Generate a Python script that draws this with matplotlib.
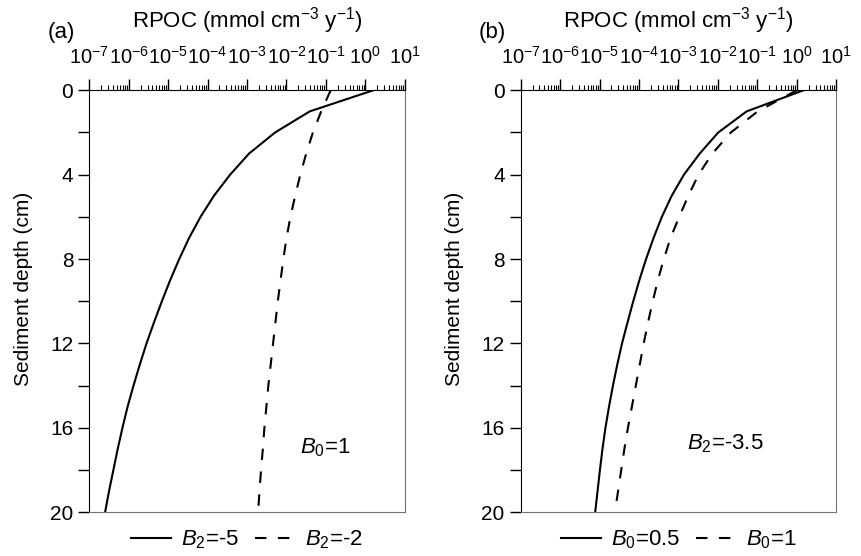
import matplotlib
matplotlib.use("Agg")
import matplotlib.pyplot as plt
from matplotlib.ticker import LogLocator, MultipleLocator, NullFormatter

plt.rcParams['font.family'] = ['Liberation Sans', 'DejaVu Sans']
plt.rcParams['mathtext.fontset'] = 'custom'
plt.rcParams['mathtext.rm'] = 'Liberation Sans'
plt.rcParams['mathtext.it'] = 'Liberation Sans:italic'
plt.rcParams['mathtext.default'] = 'regular'

# sediment depth (cm)
depth = list(range(0, 21))

# log10 of RPOC (mmol cm-3 y-1), panel (a): B0=1
log_a_b2m5 = [0.20, -1.41, -2.29, -2.95, -3.43, -3.84, -4.18, -4.47, -4.72, -4.95,
              -5.16, -5.36, -5.55, -5.72, -5.88, -6.03, -6.16, -6.28, -6.39, -6.50, -6.60]
log_a_b2m2 = [-0.88, -1.12, -1.33, -1.50, -1.65, -1.78, -1.90, -2.00, -2.08, -2.15,
              -2.22, -2.28, -2.34, -2.40, -2.46, -2.51, -2.56, -2.60, -2.645, -2.685, -2.72]

# panel (b): B2=-3.5
log_b_b05 = [0.17, -1.27, -1.99, -2.46, -2.86, -3.17, -3.42, -3.63, -3.82, -3.99,
             -4.145, -4.29, -4.43, -4.55, -4.66, -4.76, -4.85, -4.925, -4.99, -5.05, -5.11]
log_b_b1 = [0.0, -0.99, -1.67, -2.14, -2.49, -2.75, -2.98, -3.20, -3.37, -3.52,
            -3.65, -3.77, -3.88, -3.98, -4.08, -4.18, -4.28, -4.37, -4.45, -4.53, -4.61]

panels = [
    ("(a)", log_a_b2m5, log_a_b2m2, "$\\mathit{B}_{2}$=-5", "$\\mathit{B}_{2}$=-2",
     "$\\mathit{B}_{0}$=1", (0.667, 0.1405)),
    ("(b)", log_b_b05, log_b_b1, "$\\mathit{B}_{0}$=0.5", "$\\mathit{B}_{0}$=1",
     "$\\mathit{B}_{2}$=-3.5", (0.527, 0.148)),
]

fig = plt.figure(figsize=(8.62, 5.56), dpi=100)
lefts = [0.1036, 0.604]

for left, (tag, solid, dashed, lab1, lab2, note, note_xy) in zip(lefts, panels):
    ax = fig.add_axes([left, 0.0786, 0.3660, 0.759])
    ax.plot([10 ** v for v in solid], depth, color='black', lw=1.5, label=lab1)
    ax.plot([10 ** v for v in dashed], depth, color='black', lw=1.5,
            dashes=(5.5, 5.5), label=lab2)

    ax.set_xscale('log')
    ax.set_xlim(1e-7, 1e1)
    ax.set_ylim(20, 0)
    ax.xaxis.tick_top()
    ax.xaxis.set_major_locator(LogLocator(base=10, subs=(1.0,), numticks=20))
    ax.xaxis.set_minor_locator(LogLocator(base=10, subs=range(2, 10), numticks=20))
    ax.xaxis.set_minor_formatter(NullFormatter())
    ax.tick_params(axis='x', which='major', direction='out', length=8, width=1,
                   labelsize=14.5, pad=8)
    ax.tick_params(axis='x', which='minor', direction='out', length=3.5, width=0.8)

    ax.yaxis.set_major_locator(MultipleLocator(4))
    ax.yaxis.set_minor_locator(MultipleLocator(2))
    ax.tick_params(axis='y', which='both', direction='out', length=8, width=1,
                   labelsize=15, pad=3.5, right=False)
    ax.set_ylabel("Sediment depth (cm)", fontsize=15)
    ax.yaxis.set_label_coords(-0.178, 0.53)

    ax.spines['left'].set_color('black')
    ax.spines['top'].set_color('black')
    ax.spines['right'].set_color('0.45')
    ax.spines['bottom'].set_color('0.45')

    ax.text(0.5, 1.148, "RPOC (mmol cm$^{-3}$ y$^{-1}$)", transform=ax.transAxes,
            ha='center', va='baseline', fontsize=16)
    ax.text(-0.09, 1.136, tag, transform=ax.transAxes, ha='center', va='center',
            fontsize=16)
    ax.text(note_xy[0], note_xy[1], note, transform=ax.transAxes, ha='left',
            va='baseline', fontsize=16)

    ax.legend(loc='center', bbox_to_anchor=(0.5, -0.066), ncol=2, frameon=False,
              fontsize=16, handlelength=1.8, handletextpad=0.45, columnspacing=0.7,
              borderaxespad=0)

fig.savefig("out.png", dpi=100)
